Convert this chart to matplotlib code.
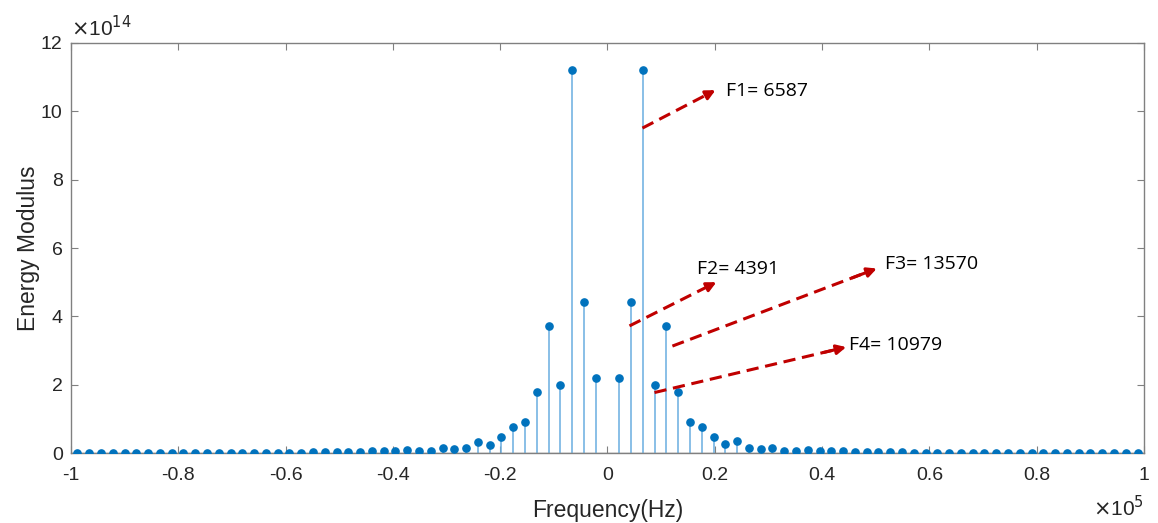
import numpy as np
import matplotlib
matplotlib.use("Agg")
import matplotlib.pyplot as plt
from matplotlib.ticker import FuncFormatter

plt.rcParams['font.family'] = ['Liberation Sans', 'DejaVu Sans']
plt.rcParams['axes.unicode_minus'] = False

# harmonic spacing of the spectrum (Hz)
df = 2195.7
harm_neg = np.arange(-45, 0)
harm_pos = np.arange(1, 46)

# energy modulus, units of 1e14
energy_neg = [0.01, 0.01, 0.01, 0.01, 0.01, 0.01, 0.01, 0.01, 0.01, 0.01,
              0.01, 0.01, 0.01, 0.01, 0.01, 0.01, 0.01, 0.01, 0.01, 0.01,
              0.02, 0.02, 0.02, 0.03, 0.03, 0.05, 0.05, 0.05, 0.10, 0.07,
              0.07, 0.14, 0.12, 0.14, 0.33, 0.23, 0.48, 0.77, 0.90, 1.78,
              3.71, 1.99, 11.2, 4.43, 2.20]
energy_pos = [2.20, 4.43, 11.2, 1.99, 3.71, 1.78, 0.90, 0.77, 0.48, 0.25,
              0.35, 0.16, 0.12, 0.16, 0.07, 0.07, 0.10, 0.05, 0.05, 0.05,
              0.03, 0.03, 0.02, 0.02, 0.02, 0.01, 0.01, 0.01, 0.01, 0.01,
              0.01, 0.01, 0.01, 0.01, 0.01, 0.01, 0.01, 0.01, 0.01, 0.01,
              0.01, 0.01, 0.01, 0.01, 0.01]

freqs = np.concatenate([harm_neg, harm_pos]) * df
energy = np.array(energy_neg + energy_pos)

# annotations: label, line start, arrow tip, text position (x in 1e5 Hz, y in 1e14)
notes = [
    ("F1= 6587", (0.0652, 9.51), (0.2013, 10.62), (0.220, 10.59)),
    ("F2= 4391", (0.041, 3.72), (0.203, 5.00), (0.166, 5.40)),
    ("F3= 13570", (0.121, 3.13), (0.502, 5.40), (0.518, 5.52)),
    ("F4= 10979", (0.0876, 1.77), (0.445, 3.10), (0.450, 3.16)),
]

fig = plt.figure(figsize=(11.58, 5.23), dpi=100)
ax = fig.add_axes([0.0613, 0.1338, 0.9266, 0.784])

x = freqs / 1e5
ax.vlines(x, 0, energy, color='#6aaee0', lw=1.1, zorder=2)
ax.plot(x, energy, 'o', color='#0072BD', ms=5.2, zorder=3)
ax.axhline(0, color='#808080', lw=1.0, zorder=1)

ax.set_xlim(-1, 1)
ax.set_ylim(0, 12)
ax.set_xticks(np.arange(-1, 1.01, 0.2))
ax.set_yticks(np.arange(0, 13, 2))
ax.xaxis.set_major_formatter(FuncFormatter(lambda v, p: '%g' % (round(v, 2) + 0.0)))
ax.yaxis.set_major_formatter(FuncFormatter(lambda v, p: '%g' % v))

for s in ax.spines.values():
    s.set_color('#808080')
    s.set_linewidth(1.0)
ax.tick_params(direction='in', top=True, right=True, length=5,
               colors='#808080', labelcolor='#262626', labelsize=14, width=0.8)
ax.tick_params(axis='x', pad=10)
ax.tick_params(axis='y', pad=6)

ax.set_xlabel('Frequency(Hz)', fontsize=16.5, color='#262626', labelpad=11)
ax.set_ylabel('Energy Modulus', fontsize=16.5, color='#262626', labelpad=1)

ax.text(0.0, 1.006, r'$\times$10$^{14}$', transform=ax.transAxes,
        fontsize=15, color='#262626', ha='left', va='bottom')
fig.text(0.988, 0.006, r'$\times$10$^{5}$', fontsize=15, color='#262626',
         ha='right', va='bottom')

red = '#C00000'
for label, p0, p1, pt in notes:
    # dashed shaft, then a solid head on the last bit
    dx, dy = p1[0] - p0[0], p1[1] - p0[1]
    ax.plot([p0[0], p1[0] - 0.04 * dx], [p0[1], p1[1] - 0.04 * dy],
            color=red, lw=2.2, dashes=(4, 2.2), zorder=4)
    ax.annotate('', xy=p1, xytext=(p1[0] - 0.12 * dx, p1[1] - 0.12 * dy),
                arrowprops=dict(arrowstyle='-|>', color=red, lw=2.2,
                                mutation_scale=14, shrinkA=0, shrinkB=0),
                zorder=4)
    ax.text(pt[0], pt[1], label, fontsize=14, family=['Open Sans', 'DejaVu Sans'],
            color='black', ha='left', va='center')

fig.savefig('out.png', dpi=100)
